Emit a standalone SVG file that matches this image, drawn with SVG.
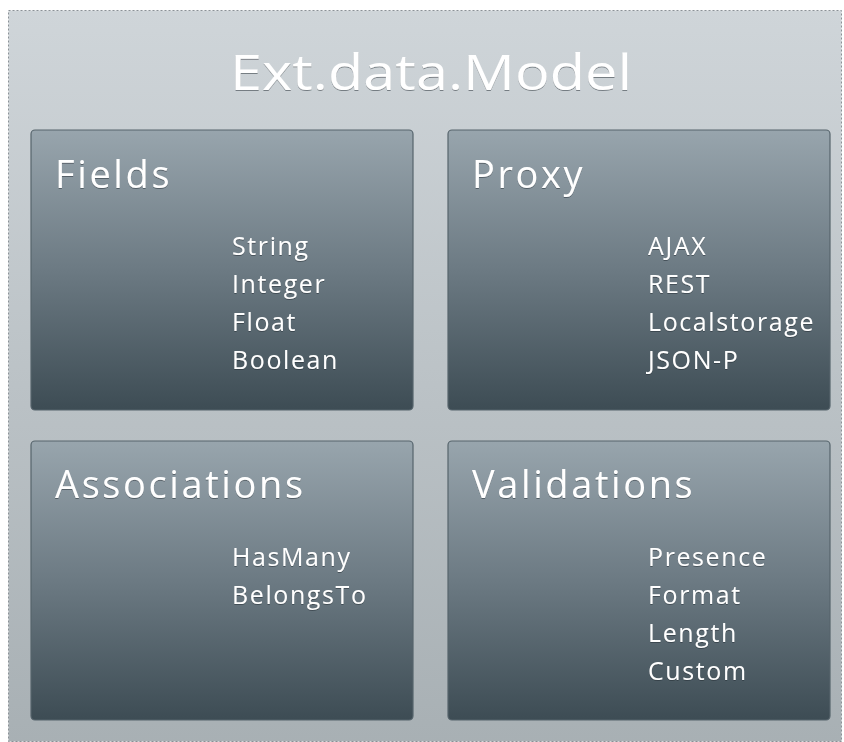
<svg xmlns="http://www.w3.org/2000/svg" width="844" height="742" viewBox="0 0 844 742">
<defs>
<linearGradient id="bg" x1="0" y1="0" x2="0" y2="1">
<stop offset="0" stop-color="#cfd5d9"/>
<stop offset="1" stop-color="#a8b0b4"/>
</linearGradient>
<linearGradient id="box" x1="0" y1="0" x2="0" y2="1">
<stop offset="0" stop-color="#98a5ad"/>
<stop offset="0.5" stop-color="#6c7a83"/>
<stop offset="1" stop-color="#3d4c54"/>
</linearGradient>
<filter id="sh" x="-5%" y="-20%" width="110%" height="140%">
<feDropShadow dx="0" dy="1" stdDeviation="0.7" flood-color="#1e2a30" flood-opacity="0.5"/>
</filter>
</defs>
<style>
.frame{fill:url(#bg);stroke:#8a9196;stroke-width:1;stroke-dasharray:2 2}
.box{fill:url(#box);stroke:#56646c;stroke-width:1.2}
text{fill:#ffffff;font-family:"Open Sans","Noto Sans","DejaVu Sans",sans-serif;filter:url(#sh)}
.title{font-size:50px;text-anchor:middle}
.head{font-size:38px;letter-spacing:2.6px}
.item{font-size:25px;letter-spacing:1.6px}
</style>
<rect class="frame" x="8.5" y="10.5" width="833" height="731"/>
<text class="title" x="431" y="90" textLength="402" lengthAdjust="spacingAndGlyphs">Ext.data.Model</text>
<g id="fields">
<rect class="box" x="31" y="130" width="382" height="280" rx="4"/>
<text class="head" x="55" y="188">Fields</text>
<text class="item" x="232" y="255">String</text>
<text class="item" x="232" y="293">Integer</text>
<text class="item" x="232" y="331">Float</text>
<text class="item" x="232" y="369">Boolean</text>
</g>
<g id="proxy">
<rect class="box" x="448" y="130" width="382" height="280" rx="4"/>
<text class="head" x="472" y="188">Proxy</text>
<text class="item" x="648" y="255">AJAX</text>
<text class="item" x="648" y="293">REST</text>
<text class="item" x="648" y="331">Localstorage</text>
<text class="item" x="648" y="369">JSON-P</text>
</g>
<g id="associations">
<rect class="box" x="31" y="441" width="382" height="279" rx="4"/>
<text class="head" x="55" y="498">Associations</text>
<text class="item" x="232" y="566">HasMany</text>
<text class="item" x="232" y="604">BelongsTo</text>
</g>
<g id="validations">
<rect class="box" x="448" y="441" width="382" height="279" rx="4"/>
<text class="head" x="472" y="498">Validations</text>
<text class="item" x="648" y="566">Presence</text>
<text class="item" x="648" y="604">Format</text>
<text class="item" x="648" y="642">Length</text>
<text class="item" x="648" y="680">Custom</text>
</g>
<g id="connectors"></g>
</svg>
